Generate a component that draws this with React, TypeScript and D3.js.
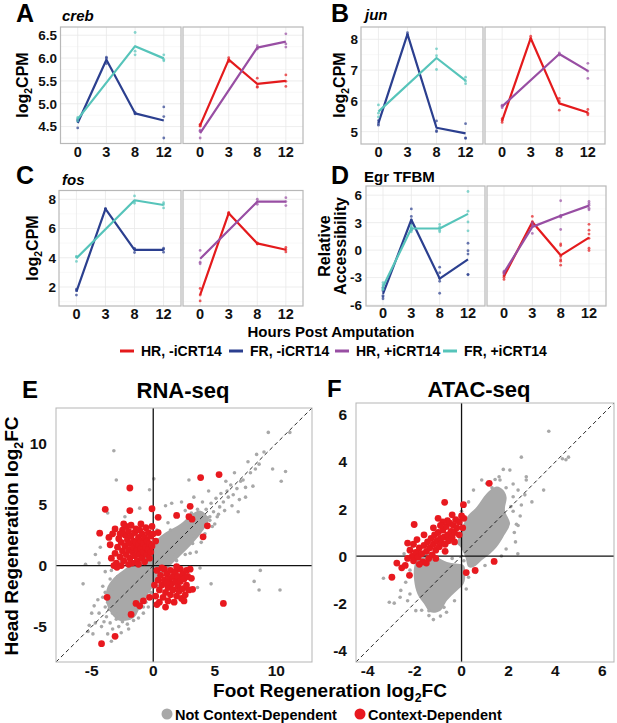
import React, { useEffect } from "react";
import * as d3 from "d3";

const FONT = "'Liberation Sans', Arial, Helvetica, sans-serif";

const RED = "#E41A1C";
const BLUE = "#2B3F8F";
const PURPLE = "#984EA3";
const TEAL = "#56C4BA";

const hours = ["0", "3", "8", "12"];

// replicate values per hour point (empty = not sampled)
const crebFRminus = [[4.65, 4.62, 4.47], [6.02, 5.99, 5.88], [4.81, 4.78, 4.78], [4.93, 4.72, 4.25]];
const crebFRplus = [[4.7, 4.67, 4.62], [], [6.56, 6.15, 6.07], [6.07, 5.97, 5.94]];
const crebHRminus = [[4.55, 4.51, 4.52], [6.01, 5.97, 5.92], [5.56, 5.38, 5.36], [5.63, 5.49, 5.38]];
const crebHRplus = [[4.42, 4.4, 4.25], [], [6.27, 6.22, 6.2], [6.53, 6.31, 6.24]];

const junFRminus = [[5.36, 5.26, 5.21], [8.22, 8.16, 8.12], [5.35, 5.03, 5.0], [5.26, 4.8, 4.78]];
const junFRplus = [[5.87, 5.6, 5.48], [], [7.69, 7.47, 7.02], [6.77, 6.65, 6.56]];
const junHRminus = [[5.42, 5.36, 5.3], [8.1, 8.03, 7.98], [6.08, 5.98, 5.7], [5.72, 5.6, 5.55]];
const junHRplus = [[5.86, 5.83, 5.78], [], [7.56, 7.52, 7.49], [7.22, 6.97, 6.73]];

const fosFRminus = [[1.85, 1.75, 1.45], [7.38, 7.33, 7.3], [4.63, 4.62, 4.36], [4.65, 4.58, 4.38]];
const fosFRplus = [[4.1, 4.05, 3.75], [], [8.23, 7.85, 7.72], [7.77, 7.65, 7.41]];
const fosHRminus = [[1.9, 1.45, 1.05], [7.1, 7.05, 7.0], [5.02, 4.98, 4.94], [4.7, 4.55, 4.4]];
const fosHRplus = [[4.5, 3.7, 3.59], [], [8.0, 7.84, 7.66], [8.11, 7.84, 7.57]];

const egrFRminus = [[-4.1, -4.43, -4.96, -5.1, -5.32], [4.5, 3.68, 3.3, 2.9, 2.2], [-1.86, -2.46, -3.1, -3.4, -4.71], [0.75, -0.07, -0.43, -2.64, -2.7]];
const egrFRplus = [[-3.54, -3.8, -4.1, -4.25, -4.3], [2.7, 2.5, 2.4, 2.2, 2.0], [2.8, 2.5, 2.18, 2.0], [6.4, 4.25, 3.07, 2.11]];
const egrHRminus = [[-2.5, -2.8, -2.95, -3.2], [3.68, 3.1, 2.9, 2.6], [0.68, 0.5, -0.7, -1.04, -1.21, -1.64], [2.82, 2.18, 1.75, 1.29, 0.21, -0.04]];
const egrHRplus = [[-2.3, -2.45, -2.6], [3.0, 2.8, 1.82], [5.39, 3.8, 3.7, 3.6, 2.25], [5.32, 5.1, 4.9, 4.57, 4.4]];

const legendLabels = ["HR, -iCRT14", "FR, -iCRT14", "HR, +iCRT14", "FR, +iCRT14"];
const legendColors = [RED, BLUE, PURPLE, TEAL];

// RNA-seq: outline of the dense grey core, then individual genes
const rnaDenseCore = [[-2.8, -4.5], [-3.7, -3.4], [-3.8, -2.0], [-3.2, -1.0], [-2.2, -0.2], [-1.0, 0.8], [-0.2, 1.7], [1.0, 2.7], [2.2, 3.4], [3.0, 4.1], [3.8, 4.5], [4.5, 3.8], [4.0, 2.8], [3.0, 1.6], [1.6, 0.2], [0.6, -0.9], [-0.2, -2.0], [-1.0, -3.3], [-1.6, -4.3]];
const rnaGrey = [
  [4.3, 4.6], [4.6, 3.7], [4.7, 5.1], [4.9, 4.4], [5.1, 5.5], [5.2, 4.0], [5.4, 4.8], [5.5, 5.9], [5.7, 5.2], [5.8, 4.5],
  [6.0, 6.1], [6.1, 5.6], [6.3, 6.6], [6.4, 4.9], [6.5, 5.8], [6.6, 7.6], [6.8, 6.3], [7.0, 5.4], [7.1, 6.9], [7.3, 7.0],
  [7.5, 6.4], [7.5, 5.6], [7.7, 8.5], [7.9, 7.6], [8.1, 6.5], [8.3, 7.9], [8.4, 9.1], [8.6, 8.3], [9.0, 9.3], [9.35, 10.9],
  [9.7, 7.9], [10.4, 6.9], [10.75, 7.7], [11.1, 10.9], [6.9, 4.4], [5.9, 6.9], [4.5, 6.1], [4.0, 5.2], [3.6, 4.6], [3.3, 5.6],
  [2.9, 7.0], [2.3, 5.2], [1.5, 5.1], [1.0, 4.9], [5.0, 3.4], [4.2, 2.6], [3.9, 1.9], [3.5, 1.1],
  [8.7, -0.4], [8.2, -1.3], [8.6, -2.0], [10.3, -2.0], [4.7, -1.5], [3.6, -1.8], [3.8, -0.2],
  [-5.7, -1.5], [-5.5, 0.1], [-4.7, 0.9], [-4.4, 0.2], [-3.9, -0.5], [-4.1, -1.7], [-3.5, -1.1], [-3.9, -2.2], [-4.5, -2.8], [-4.8, -3.3],
  [-4.4, -3.9], [-4.7, -4.7], [-4.2, -5.0], [-3.8, -4.2], [-3.5, -4.7], [-3.3, -5.2], [-3.0, -4.4], [-2.8, -5.0], [-2.6, -5.5], [-3.4, -6.2],
  [-3.9, -3.4], [-3.6, -3.6], [-2.5, -4.6], [-2.1, -4.8], [-1.6, -4.5], [-1.2, -4.3], [-0.8, -3.9], [-0.4, -3.4], [-3.7, -5.6], [-5.2, -4.9],
  [-4.9, -5.6], [-5.0, -3.9], [-3.2, 9.4], [-3.0, 7.0], [-0.3, 6.2], [0.05, 7.1], [-3.7, 4.3], [-2.3, 4.0], [-1.1, 4.7], [-4.3, 1.5],
  [-3.6, -2.3], [-3.4, -0.4], [-2.6, 0.3], [-1.5, 1.0], [-0.7, 2.1], [0.3, 2.9], [1.2, 3.5], [2.0, 4.0], [2.6, 4.5], [1.6, -0.7],
  [0.8, -1.6], [-0.2, -2.2], [-0.6, -3.0], [1.9, 0.4], [2.6, 0.9], [3.2, 1.8], [3.9, 3.0], [4.4, 3.9], [3.4, 3.1], [2.4, 2.4],
  [-3.7, -3.0], [-3.4, -2.0], [-2.9, -0.9], [-1.9, -0.2], [-0.9, 0.9], [0.2, 1.9], [1.4, 2.9], [3.1, 4.3], [4.6, 4.0], [3.0, 1.0],
  [2.0, -0.1], [1.2, -0.8], [0.4, -1.7], [-0.4, -2.7], [-1.1, -3.5], [-1.9, -4.3], [-2.9, -4.0], [-4.0, -4.6], [-2.0, -5.2], [-5.3, -5.4],
  [-4.1, -2.6], [-3.3, -3.9], [-2.4, -4.1], [-0.8, -3.4], [0.0, -2.6], [0.9, -0.4], [1.8, 0.9], [3.3, 2.4], [4.8, 3.2], [5.3, 4.2],
];
const rnaRed = [
  [-3.4, 0.6], [-3.1, 1.0], [-3.5, 1.7], [-3.0, 0.2], [-2.9, 1.5], [-2.8, 2.2], [-2.7, 0.7], [-2.6, 1.9], [-2.5, 2.9], [-2.5, 1.2],
  [-2.4, 0.4], [-2.3, 2.5], [-2.3, 1.6], [-2.2, 3.2], [-2.2, 0.9], [-2.1, 2.1], [-2.0, 1.3], [-2.0, 2.8], [-1.9, 0.6], [-1.9, 1.8],
  [-1.8, 2.4], [-1.8, 3.3], [-1.7, 1.1], [-1.7, 0.2], [-1.6, 2.0], [-1.6, 1.5], [-1.5, 2.7], [-1.5, 0.8], [-1.4, 1.9], [-1.4, 3.0],
  [-1.3, 1.3], [-1.3, 0.4], [-1.2, 2.3], [-1.2, 1.7], [-1.1, 0.9], [-1.1, 2.9], [-1.0, 1.4], [-1.0, 2.0], [-0.9, 0.6], [-0.9, 2.6],
  [-0.8, 1.1], [-0.8, 1.8], [-0.7, 0.3], [-0.7, 2.3], [-0.6, 1.5], [-0.6, 3.1], [-0.5, 0.9], [-0.5, 2.0], [-0.4, 1.3], [-0.4, 2.7],
  [-0.3, 0.6], [-0.3, 1.8], [-0.2, 1.1], [-0.2, 2.4], [-0.1, 3.2], [-0.1, 1.6], [-2.6, 0.0], [-2.95, -0.15], [-1.0, 3.4], [-2.4, 3.4],
  [-3.6, 2.3], [-3.1, 3.0], [0.2, 2.0], [0.4, 2.7], [0.0, 2.6], [-3.3, 2.6], [-2.7, 2.6], [-3.2, 0.0], [-2.0, 0.1], [-1.2, 0.1],
  [0.3, -0.4], [0.4, -1.2], [0.5, -2.0], [0.6, -0.8], [0.7, -1.6], [0.8, -2.6], [0.9, -0.3], [0.9, -1.2], [1.0, -2.2], [1.1, -0.7],
  [1.2, -1.8], [1.2, -2.9], [1.3, -1.1], [1.4, -0.4], [1.4, -2.4], [1.5, -1.5], [1.6, -0.9], [1.6, -2.0], [1.7, -3.0], [1.8, -1.3],
  [1.8, -0.5], [1.9, -2.5], [2.0, -1.7], [2.0, -0.9], [2.1, -2.1], [2.2, -0.3], [2.2, -1.3], [2.3, -2.7], [2.4, -0.7], [2.4, -1.9],
  [2.5, -1.1], [2.6, -2.4], [2.7, -0.4], [2.7, -1.6], [2.8, -0.9], [2.9, -2.0], [3.0, -0.3], [0.2, -2.5], [0.5, -3.0], [0.1, -1.6],
  [0.7, -0.2], [1.1, -1.4], [1.9, -0.1], [2.5, -2.9], [0.3, -3.2], [1.0, -3.4],
  [-1.4, -3.1], [-0.8, -2.9], [-0.3, -2.6], [-1.1, -3.3],
  [-1.9, 6.35], [-3.9, 4.6], [-1.9, 4.5], [-0.1, 4.65], [0.4, 3.95], [3.85, 7.2], [5.35, 7.45], [3.0, 4.85], [1.9, 4.1], [2.9, 4.0],
  [3.15, 3.8], [4.4, 3.25], [4.05, 2.35], [-4.35, 2.65], [-3.75, -2.6], [-1.8, -4.0], [-3.1, -5.8], [-4.2, -6.4], [5.7, -3.1], [3.1, -1.05],
  [3.2, -1.95],
];

// ATAC-seq: two dense grey cores, then individual regions
const atacDenseUpper = [[-0.19, 0.53], [-0.05, 0.96], [0.23, 1.66], [0.65, 2.09], [1.07, 2.66], [1.5, 2.95], [1.78, 2.8], [1.92, 2.5], [1.85, 1.95], [2.06, 1.38], [1.78, 0.81], [1.5, 0.38], [1.22, 0.1], [0.86, -0.18], [0.51, -0.47], [0.3, -0.47], [0.16, -0.04], [-0.05, 0.38]];
const atacDenseLower = [[-1.82, 0.1], [-1.46, 0.24], [-1.04, -0.04], [-0.62, -0.25], [-0.26, -0.32], [0.09, -0.39], [0.16, -0.75], [0.09, -1.18], [-0.19, -1.46], [-0.62, -1.89], [-0.9, -2.32], [-1.32, -2.39], [-1.6, -2.03], [-1.88, -1.61], [-2.02, -1.04], [-2.02, -0.47]];
const atacGrey = [
  [3.72, 5.3], [2.55, 4.2], [4.3, 4.13], [4.45, 4.09], [4.56, 4.2], [3.5, 2.8], [2.06, 3.65], [1.78, 3.68], [1.43, 3.25], [1.6, 3.37],
  [2.76, 3.37], [2.76, 3.23], [2.41, 2.8], [2.2, 3.06], [1.99, 1.38], [2.34, 1.35], [2.41, 1.3], [0.51, 2.8], [0.86, 3.23], [1.07, 3.08],
  [1.64, 3.23], [2.2, 2.52], [2.55, 2.17], [2.2, 1.9], [2.3, 0.6], [2.4, 0.1], [2.25, 1.0], [1.9, 0.3], [2.1, 2.1], [1.3, 2.9],
  [0.3, 2.3], [0.0, 1.9], [-0.1, 1.2], [0.6, -0.7], [1.0, -0.4], [1.7, 0.0], [2.7, 2.6], [3.0, 2.3], [1.9, 2.9], [2.5, 1.7],
  [-3.33, -0.94], [-3.08, -1.96], [-2.87, -2.0], [-2.62, -1.75], [-2.59, -1.46], [-1.95, -2.32], [-1.39, -2.53], [-1.39, -2.32], [-0.64, -2.39], [-0.75, -2.18],
  [-2.2, -1.61], [-2.38, -1.11], [-2.2, -0.6], [-1.2, -2.7], [-0.3, -1.9], [0.2, -1.4], [0.3, -0.9], [-1.7, -2.3], [-2.3, -1.9], [-0.9, -2.55],
  [-2.45, 0.1], [-2.1, 0.4], [-1.5, 0.5], [-0.4, -0.1], [0.1, -0.2],
];
const atacRed = [
  [-2.2, 0.25], [-2.1, 0.0], [-2.05, -0.2], [-1.95, 0.15], [-1.85, -0.05], [-1.8, 0.35], [-1.7, 0.1], [-1.65, -0.25], [-1.6, 0.45], [-1.5, 0.2],
  [-1.45, 0.6], [-1.4, -0.1], [-1.35, 0.35], [-1.3, 0.75], [-1.25, 0.05], [-1.2, 0.5], [-1.15, 0.9], [-1.1, 0.25], [-1.05, 0.65], [-1.0, 1.0],
  [-0.95, 0.4], [-0.9, 0.75], [-0.85, 0.55], [-0.8, 1.1], [-0.75, 0.8], [-0.7, 0.5], [-0.65, 1.25], [-0.6, 0.9], [-0.55, 0.65], [-0.5, 1.4],
  [-0.45, 1.05], [-0.4, 0.8], [-0.35, 1.3], [-0.3, 1.0], [-0.25, 1.55], [-0.2, 1.2], [-0.1, 1.45], [0.0, 1.7], [0.1, 1.6], [-0.6, 1.5],
  [-0.8, 1.45], [-2.05, 0.5], [-2.3, 0.55], [-1.9, 0.7], [-1.6, 0.9], [-1.2, 1.2], [-0.9, 1.3], [-1.5, -0.3], [-1.1, -0.1], [-0.7, 0.2],
  [-0.3, 0.6], [-0.1, 0.9], [0.05, 1.2], [-2.3, -0.1], [-1.8, -0.35], [-1.0, 1.6], [-0.4, 1.75],
  [-0.72, 2.28], [0.08, 2.18], [1.18, 3.09], [-2.02, 1.34], [-2.97, -0.9], [-2.76, -0.3], [-2.55, -0.5], [-2.22, -0.82], [-2.4, -0.4], [1.39, -0.23],
  [0.58, -0.61], [0.2, -0.7],
];

const scatterLegend = ["Not Context-Dependent", "Context-Dependent"];

type FacetSeries = { reps: number[][]; color: string };

function LineFacets(props: {
  boxes: number[][]; top: number; bottom: number; domain: number[]; ticks: number[];
  fmt: (v: number) => string; facets: FacetSeries[][]; yLabelRight: number; xLabelY: number;
}) {
  const { boxes, top, bottom, domain, ticks, fmt, facets, yLabelRight, xLabelY } = props;
  const y = d3.scaleLinear().domain(domain).range([bottom, top]);
  const step = ticks[1] - ticks[0];
  const minor = d3.range(ticks[0] - step / 2, domain[1], step).filter((v) => v > domain[0]);
  return (
    <g>
      {boxes.map(([l, r], i) => {
        const x = d3.scalePoint<string>().domain(hours).range([l, r]).padding(0.6);
        const line = d3.line<[string, number]>().x((d) => x(d[0]) as number).y((d) => y(d[1]));
        return (
          <g key={i}>
            {minor.map((v) => (
              <line key={"n" + v} x1={l} x2={r} y1={y(v)} y2={y(v)} stroke="#F4F4F4" strokeWidth={0.6} />
            ))}
            {ticks.map((v) => (
              <line key={"g" + v} x1={l} x2={r} y1={y(v)} y2={y(v)} stroke="#E8E8E8" strokeWidth={0.8} />
            ))}
            {hours.map((h) => (
              <line key={"v" + h} x1={x(h)} x2={x(h)} y1={top} y2={bottom} stroke="#E8E8E8" strokeWidth={0.8} />
            ))}
            {facets[i].map((s, j) => {
              const means = s.reps
                .map((r, k) => (r.length ? ([hours[k], d3.mean(r) as number] as [string, number]) : null))
                .filter((d): d is [string, number] => d !== null);
              return (
                <g key={j}>
                  {s.reps.flatMap((r, k) =>
                    r.map((v, m) => (
                      <circle key={k + "-" + m} cx={x(hours[k])} cy={y(v)} r={1.4} fill={s.color} opacity={0.7} />
                    ))
                  )}
                  <path d={line(means) || ""} fill="none" stroke={s.color} strokeWidth={2.2} strokeLinejoin="round" />
                </g>
              );
            })}
            <rect x={l} y={top} width={r - l} height={bottom - top} fill="none" stroke="#B8B8B8" strokeWidth={1.2} />
            {hours.map((h) => (
              <text key={"t" + h} x={x(h)} y={xLabelY} textAnchor="middle" fontSize={14.5} fontWeight="bold" fill="#111">
                {h}
              </text>
            ))}
          </g>
        );
      })}
      {ticks.map((v) => (
        <text key={"y" + v} x={yLabelRight} y={y(v)} dy="0.36em" textAnchor="end" fontSize={13.5} fontWeight="bold" fill="#111">
          {fmt(v)}
        </text>
      ))}
    </g>
  );
}

function Scatter(props: {
  x0: number; x1: number; y0: number; y1: number; domain: number[]; ticks: number[];
  cores: number[][][]; grey: number[][]; red: number[][]; id: string; yLabelRight: number; xLabelY: number;
}) {
  const { x0, x1, y0, y1, domain, ticks, cores, grey, red, id, yLabelRight, xLabelY } = props;
  const x = d3.scaleLinear().domain(domain).range([x0, x1]);
  const y = d3.scaleLinear().domain(domain).range([y1, y0]);
  const blob = d3
    .line<number[]>()
    .x((d) => x(d[0]))
    .y((d) => y(d[1]))
    .curve(d3.curveCatmullRomClosed);
  return (
    <g>
      <defs>
        <clipPath id={id}>
          <rect x={x0} y={y0} width={x1 - x0} height={y1 - y0} />
        </clipPath>
      </defs>
      <g clipPath={`url(#${id})`}>
        {cores.map((c, i) => (
          <path key={i} d={blob(c) || ""} fill="#A8A8A8" />
        ))}
        {grey.map((d, i) => (
          <circle key={i} cx={x(d[0])} cy={y(d[1])} r={1.8} fill="#A8A8A8" />
        ))}
        <line x1={x(0)} x2={x(0)} y1={y0} y2={y1} stroke="#111" strokeWidth={1.3} />
        <line x1={x0} x2={x1} y1={y(0)} y2={y(0)} stroke="#111" strokeWidth={1.3} />
        <line x1={x(domain[0])} y1={y(domain[0])} x2={x(domain[1])} y2={y(domain[1])} stroke="#111" strokeWidth={0.9} strokeDasharray="4,3" />
        {red.map((d, i) => (
          <circle key={i} cx={x(d[0])} cy={y(d[1])} r={3.4} fill="#E8191F" />
        ))}
      </g>
      <rect x={x0} y={y0} width={x1 - x0} height={y1 - y0} fill="none" stroke="#B5B5B5" strokeWidth={1} />
      {ticks.map((v) => (
        <text key={"x" + v} x={x(v)} y={xLabelY} textAnchor="middle" fontSize={15.5} fontWeight="bold" fill="#111">
          {String(v)}
        </text>
      ))}
      {ticks.map((v) => (
        <text key={"y" + v} x={yLabelRight} y={y(v)} dy="0.36em" textAnchor="end" fontSize={15.5} fontWeight="bold" fill="#111">
          {String(v)}
        </text>
      ))}
    </g>
  );
}

function Log2(props: { unit: string; size: number }) {
  return (
    <>
      log<tspan dy={props.size * 0.25} fontSize={props.size * 0.65}>2</tspan>
      <tspan dy={-props.size * 0.25}>{props.unit}</tspan>
    </>
  );
}

export default function App() {
  useEffect(() => {
    document.body.style.margin = "0";
    document.body.style.overflow = "hidden";
  }, []);
  const oneDec = (v: number) => v.toFixed(1);
  const plain = (v: number) => String(v);
  return (
    <svg width={617} height={723} style={{ position: "fixed", left: 0, top: 0 }} fontFamily={FONT}>
      <rect width={617} height={723} fill="#fff" />

      {/* A */}
      <text x={16} y={22} fontSize={25} fontWeight="bold">A</text>
      <text x={62} y={21} fontSize={15} fontWeight="bold" fontStyle="italic">creb</text>
      <text transform="translate(28,85) rotate(-90)" textAnchor="middle" fontSize={16} fontWeight="bold">
        <Log2 unit="CPM" size={16} />
      </text>
      <LineFacets
        boxes={[[60.5, 181], [183, 303]]} top={27} bottom={143.5} domain={[4.13, 6.68]}
        ticks={[4.5, 5, 5.5, 6, 6.5]} fmt={oneDec} yLabelRight={57} xLabelY={157}
        facets={[
          [{ reps: crebFRminus, color: BLUE }, { reps: crebFRplus, color: TEAL }],
          [{ reps: crebHRminus, color: RED }, { reps: crebHRplus, color: PURPLE }],
        ]}
      />

      {/* B */}
      <text x={331} y={22} fontSize={25} fontWeight="bold">B</text>
      <text x={365} y={20} fontSize={15} fontWeight="bold" fontStyle="italic">jun</text>
      <text transform="translate(345,85) rotate(-90)" textAnchor="middle" fontSize={16} fontWeight="bold">
        <Log2 unit="CPM" size={16} />
      </text>
      <LineFacets
        boxes={[[361, 483], [485, 605]]} top={27} bottom={144} domain={[4.6, 8.4]}
        ticks={[5, 6, 7, 8]} fmt={plain} yLabelRight={358} xLabelY={157}
        facets={[
          [{ reps: junFRminus, color: BLUE }, { reps: junFRplus, color: TEAL }],
          [{ reps: junHRminus, color: RED }, { reps: junHRplus, color: PURPLE }],
        ]}
      />

      {/* C */}
      <text x={16} y={184} fontSize={25} fontWeight="bold">C</text>
      <text x={62} y={185} fontSize={15} fontWeight="bold" fontStyle="italic">fos</text>
      <text transform="translate(38,248) rotate(-90)" textAnchor="middle" fontSize={16} fontWeight="bold">
        <Log2 unit="CPM" size={16} />
      </text>
      <LineFacets
        boxes={[[59, 181], [183, 303]]} top={190.5} bottom={306} domain={[0.7, 8.6]}
        ticks={[2, 4, 6, 8]} fmt={plain} yLabelRight={56} xLabelY={319}
        facets={[
          [{ reps: fosFRminus, color: BLUE }, { reps: fosFRplus, color: TEAL }],
          [{ reps: fosHRminus, color: RED }, { reps: fosHRplus, color: PURPLE }],
        ]}
      />

      {/* D */}
      <text x={331} y={184} fontSize={25} fontWeight="bold">D</text>
      <text x={364} y={182} fontSize={15} fontWeight="bold">Egr TFBM</text>
      <text transform="translate(330,246) rotate(-90)" textAnchor="middle" fontSize={16} fontWeight="bold">Relative</text>
      <text transform="translate(346,246) rotate(-90)" textAnchor="middle" fontSize={16} fontWeight="bold">Accessibility</text>
      <LineFacets
        boxes={[[366, 485], [487, 606]]} top={186} bottom={306} domain={[-6.1, 7.0]}
        ticks={[-6, -3, 0, 3, 6]} fmt={plain} yLabelRight={362} xLabelY={318}
        facets={[
          [{ reps: egrFRminus, color: BLUE }, { reps: egrFRplus, color: TEAL }],
          [{ reps: egrHRminus, color: RED }, { reps: egrHRplus, color: PURPLE }],
        ]}
      />

      {/* shared legend */}
      <text x={331} y={337} textAnchor="middle" fontSize={15} fontWeight="bold">Hours Post Amputation</text>
      {legendLabels.map((lab, i) => {
        const lx = [120, 229, 335, 443][i];
        return (
          <g key={lab}>
            <line x1={lx} x2={lx + 14} y1={351} y2={351} stroke={legendColors[i]} strokeWidth={3} />
            <text x={lx + 21} y={356} fontSize={14} fontWeight="bold">{lab}</text>
          </g>
        );
      })}

      {/* E */}
      <text x={22} y={398} fontSize={24} fontWeight="bold">E</text>
      <text x={183} y={398} textAnchor="middle" fontSize={22} fontWeight="bold">RNA-seq</text>
      <text transform="translate(18,536) rotate(-90)" textAnchor="middle" fontSize={19} fontWeight="bold">
        Head Regeneration <Log2 unit="FC" size={19} />
      </text>
      <Scatter
        x0={56} x1={312} y0={408} y1={662} domain={[-7.9, 12.9]} ticks={[-5, 0, 5, 10]}
        cores={[rnaDenseCore]} grey={rnaGrey} red={rnaRed} id="clipE" yLabelRight={47} xLabelY={676}
      />

      {/* F */}
      <text x={327} y={397} fontSize={24} fontWeight="bold">F</text>
      <text x={479} y={397} textAnchor="middle" fontSize={22} fontWeight="bold">ATAC-seq</text>
      <Scatter
        x0={356} x1={614} y0={403} y1={662} domain={[-4.5, 6.5]} ticks={[-4, -2, 0, 2, 4, 6]}
        cores={[atacDenseUpper, atacDenseLower]} grey={atacGrey} red={atacRed} id="clipF" yLabelRight={347} xLabelY={676}
      />

      <text x={330} y={697} textAnchor="middle" fontSize={19} fontWeight="bold">
        Foot Regeneration <Log2 unit="FC" size={19} />
      </text>
      <circle cx={167} cy={714} r={5.5} fill="#A8A8A8" />
      <text x={175} y={719.5} fontSize={14.5} fontWeight="bold">{scatterLegend[0]}</text>
      <circle cx={360} cy={714} r={5.5} fill="#E8191F" />
      <text x={368} y={719.5} fontSize={14.5} fontWeight="bold">{scatterLegend[1]}</text>
    </svg>
  );
}
